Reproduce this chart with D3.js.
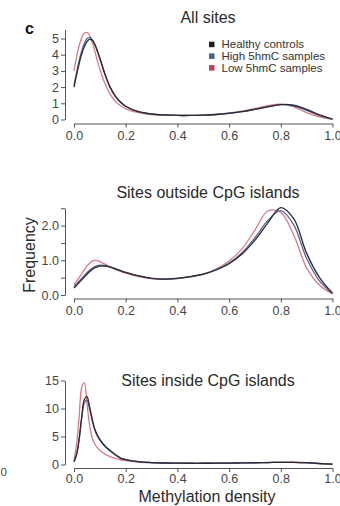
<!DOCTYPE html>
<html>
<head>
<meta charset="utf-8">
<script src="https://cdn.jsdelivr.net/npm/d3@7"></script>
<style>
  html, body { margin: 0; padding: 0; background: #fff; }
  svg { display: block; font-family: "Liberation Sans", Arial, Helvetica, sans-serif; }
  .axis path, .axis line { stroke: #555; stroke-width: 1; }
  .axis text { fill: #444; font-size: 12.5px; }
</style>
</head>
<body>
<svg id="chart" width="340" height="506"></svg>
<script>
// Methylation density grid shared by all density curves
const methylation = [0, 0.01, 0.02, 0.03, 0.04, 0.05, 0.06, 0.07, 0.08, 0.09, 0.10,
  0.12, 0.14, 0.16, 0.18, 0.20, 0.25, 0.30, 0.35, 0.40, 0.45, 0.50, 0.55, 0.60,
  0.65, 0.70, 0.75, 0.80, 0.85, 0.90, 0.95, 1.00];

const groups = ["Healthy controls", "High 5hmC samples", "Low 5hmC samples"];
const groupColors = ["#1e1e22", "#4a5b8e", "#c2404f"];
const lineColors = ["#2a2a30", "#55679a", "#d97a87"];

// All sites
const allHealthy = [2.0, 2.75, 3.45, 4.05, 4.5, 4.8, 4.95, 4.9, 4.65, 4.25, 3.8,
  2.8, 2.0, 1.45, 1.08, 0.82, 0.48, 0.34, 0.28, 0.25, 0.25, 0.27, 0.31, 0.38,
  0.48, 0.62, 0.78, 0.92, 0.88, 0.62, 0.28, 0.02];
const allHigh = [2.1, 2.9, 3.65, 4.25, 4.7, 4.98, 5.07, 4.95, 4.65, 4.22, 3.75,
  2.75, 1.95, 1.42, 1.05, 0.8, 0.47, 0.33, 0.28, 0.25, 0.25, 0.27, 0.31, 0.39,
  0.49, 0.63, 0.79, 0.92, 0.84, 0.56, 0.24, 0.02];
const allLow = [3.0, 3.85, 4.55, 5.05, 5.32, 5.38, 5.2, 4.8, 4.25, 3.65, 3.1,
  2.2, 1.55, 1.12, 0.85, 0.66, 0.42, 0.31, 0.27, 0.25, 0.25, 0.27, 0.32, 0.41,
  0.52, 0.68, 0.85, 0.95, 0.78, 0.42, 0.16, 0.01];

// Sites outside CpG islands
const outsideHealthy = [0.2, 0.28, 0.36, 0.44, 0.52, 0.6, 0.67, 0.73, 0.78, 0.81, 0.83,
  0.83, 0.8, 0.75, 0.7, 0.65, 0.55, 0.48, 0.46, 0.48, 0.53, 0.6, 0.72, 0.9,
  1.18, 1.58, 2.08, 2.52, 2.2, 1.2, 0.5, 0.05];
const outsideHigh = [0.24, 0.32, 0.4, 0.48, 0.56, 0.64, 0.71, 0.77, 0.82, 0.85, 0.86,
  0.85, 0.81, 0.76, 0.7, 0.65, 0.55, 0.48, 0.46, 0.48, 0.53, 0.6, 0.73, 0.92,
  1.22, 1.65, 2.15, 2.43, 2.02, 1.05, 0.4, 0.04];
const outsideLow = [0.3, 0.4, 0.5, 0.62, 0.73, 0.83, 0.91, 0.97, 1.0, 0.99, 0.96,
  0.89, 0.81, 0.74, 0.68, 0.63, 0.53, 0.47, 0.45, 0.47, 0.52, 0.6, 0.75, 0.98,
  1.33, 1.87, 2.42, 2.38, 1.73, 0.78, 0.28, 0.03];

// Sites inside CpG islands
const insideHealthy = [0.5, 1.8, 4.6, 8.6, 11.6, 12.1, 10.4, 8.2, 6.4, 5.3, 4.5,
  3.3, 2.5, 1.75, 1.15, 0.88, 0.5, 0.35, 0.27, 0.24, 0.22, 0.22, 0.23, 0.25,
  0.28, 0.31, 0.35, 0.38, 0.38, 0.32, 0.18, 0.05];
const insideHigh = [0.5, 1.8, 4.5, 8.3, 11.0, 11.5, 10.0, 7.9, 6.2, 5.1, 4.35,
  3.2, 2.4, 1.7, 1.15, 0.87, 0.49, 0.34, 0.27, 0.24, 0.22, 0.22, 0.23, 0.25,
  0.28, 0.31, 0.35, 0.38, 0.37, 0.3, 0.17, 0.05];
const insideLow = [0.8, 3.6, 8.6, 13.8, 14.6, 11.0, 7.2, 4.8, 3.7, 3.0, 2.5,
  1.85, 1.4, 1.08, 0.85, 0.68, 0.42, 0.31, 0.26, 0.23, 0.22, 0.22, 0.23, 0.25,
  0.28, 0.32, 0.36, 0.4, 0.4, 0.33, 0.18, 0.05];

const xTicks = [0, 0.2, 0.4, 0.6, 0.8, 1.0];

const panels = [
  { title: "All sites", series: [allHealthy, allHigh, allLow],
    yTop: 5.55, yTicks: [0, 1, 2, 3, 4, 5], yLabelled: [0, 1, 2, 3, 4, 5], yFmt: d3.format("d"),
    y0: 119.5, yPerUnit: 16.2, xAxisY: 123.5, titleY: 23, pad: 4 },
  { title: "Sites outside CpG islands", series: [outsideHealthy, outsideHigh, outsideLow],
    yTop: 2.5, yTicks: [0, 0.5, 1, 1.5, 2, 2.5], yLabelled: [0, 1, 2], yFmt: d3.format(".1f"),
    y0: 295, yPerUnit: 34.7, xAxisY: 298.5, titleY: 198, pad: 4 },
  { title: "Sites inside CpG islands", series: [insideHealthy, insideHigh, insideLow],
    yTop: 15, yTicks: [0, 5, 10, 15], yLabelled: [0, 5, 10, 15], yFmt: d3.format("d"),
    y0: 464.5, yPerUnit: 5.6, xAxisY: 468, titleY: 386, pad: 2.5 }
];

const svg = d3.select("#chart");
const x = d3.scaleLinear().domain([0, 1]).range([74, 332.5]);
const yAxisX = 65;

panels.forEach(p => {
  const y = d3.scaleLinear().domain([0, p.yTop]).range([p.y0, p.y0 - p.yTop * p.yPerUnit]);
  const g = svg.append("g");

  // y axis
  g.append("g").attr("class", "axis")
    .attr("transform", `translate(${yAxisX},0)`)
    .call(d3.axisLeft(y).tickValues(p.yTicks).tickSize(4).tickSizeOuter(0).tickPadding(2)
      .tickFormat(d => p.yLabelled.includes(d) ? p.yFmt(d) : ""));

  // x axis
  g.append("g").attr("class", "axis")
    .attr("transform", `translate(0,${p.xAxisY})`)
    .call(d3.axisBottom(x).tickValues(xTicks).tickSize(4).tickSizeOuter(0).tickPadding(p.pad)
      .tickFormat(d3.format(".1f")));

  // density curves
  const line = d3.line()
    .x((d, i) => x(methylation[i]))
    .y(d => y(d))
    .curve(d3.curveCatmullRom.alpha(0.5));
  [2, 1, 0].forEach(k => {
    g.append("path")
      .attr("d", line(p.series[k]))
      .attr("fill", "none")
      .attr("stroke", lineColors[k])
      .attr("stroke-width", 1.3)
      .attr("stroke-linejoin", "round");
  });

  // panel title
  g.append("text")
    .attr("x", 208).attr("y", p.titleY)
    .attr("text-anchor", "middle")
    .attr("font-size", 16).attr("fill", "#2a2a2a")
    .text(p.title);
});

// panel letter
svg.append("text").attr("x", 25).attr("y", 33.5)
  .attr("font-size", 16).attr("font-weight", "bold").attr("fill", "#111")
  .text("c");

// legend
const legend = svg.append("g");
groups.forEach((name, i) => {
  const ly = 44.3 + i * 11.7;
  legend.append("rect").attr("x", 209).attr("y", ly - 2.6)
    .attr("width", 5.5).attr("height", 5.5).attr("fill", groupColors[i]);
  legend.append("text").attr("x", 221.5).attr("y", ly + 4)
    .attr("font-size", 11.5).attr("fill", "#333").text(name);
});

// axis titles
svg.append("text")
  .attr("transform", "translate(35,255) rotate(-90)")
  .attr("text-anchor", "middle").attr("font-size", 16).attr("fill", "#2a2a2a")
  .text("Frequency");
svg.append("text")
  .attr("x", 207).attr("y", 501.5)
  .attr("text-anchor", "middle").attr("font-size", 16).attr("fill", "#2a2a2a")
  .text("Methylation density");

// stray tick label at the left edge
svg.append("text")
  .attr("x", 0.5).attr("y", 476)
  .attr("font-size", 11.5).attr("fill", "#444")
  .text("0");
</script>
</body>
</html>
